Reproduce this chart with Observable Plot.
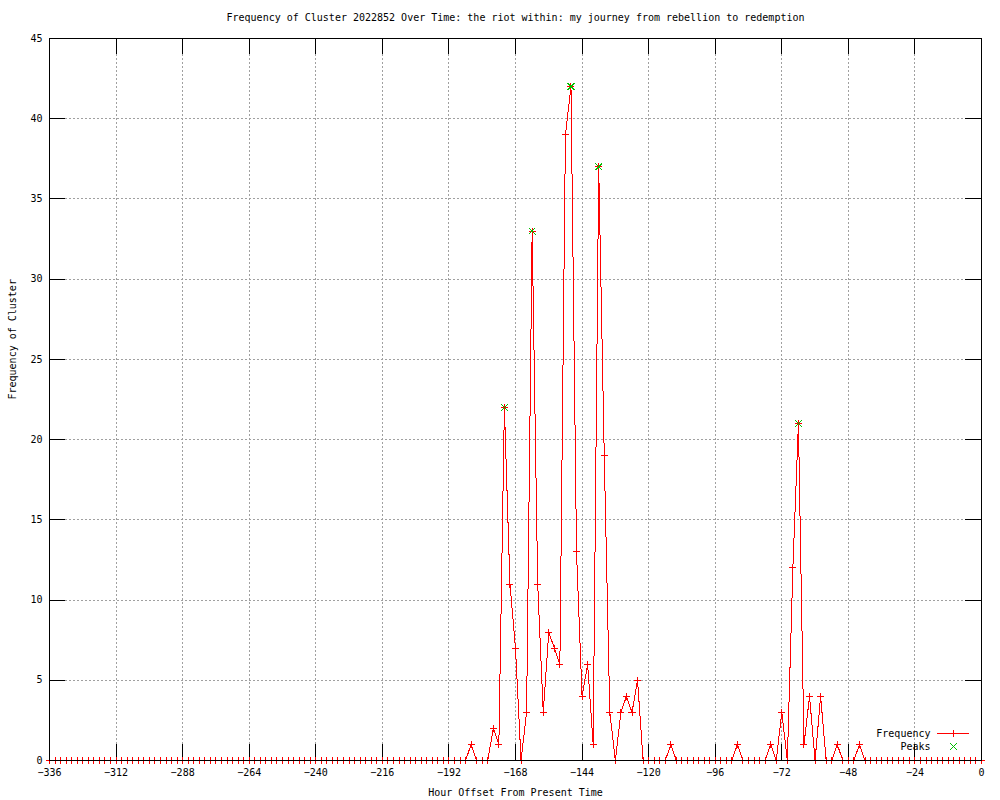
<!DOCTYPE html>
<html>
<head>
<meta charset="utf-8">
<script src="https://cdn.jsdelivr.net/npm/d3@7"></script>
<script src="https://cdn.jsdelivr.net/npm/@observablehq/plot@0.6"></script>
<style>
  body { margin: 0; background: #fff; }
  svg { display: block; }
  svg line, svg path, svg rect { shape-rendering: crispEdges; }
</style>
</head>
<body>
<div id="chart"></div>
<script>
// ---- data ----
const hours = d3.range(-336, 1, 2); // every 2 hours, -336 .. 0
const frequency = [
  0, 0, 0, 0, 0, 0, 0, 0, 0, 0, 0, 0,        // -336 .. -314
  0, 0, 0, 0, 0, 0, 0, 0, 0, 0, 0, 0,        // -312 .. -290
  0, 0, 0, 0, 0, 0, 0, 0, 0, 0, 0, 0,        // -288 .. -266
  0, 0, 0, 0, 0, 0, 0, 0, 0, 0, 0, 0,        // -264 .. -242
  0, 0, 0, 0, 0, 0, 0, 0, 0, 0, 0, 0,        // -240 .. -218
  0, 0, 0, 0, 0, 0, 0, 0, 0, 0, 0, 0,        // -216 .. -194
  0, 0, 0, 0, 1, 0, 0, 0, 2, 1, 22, 11,      // -192 .. -170
  7, 0, 3, 33, 11, 3, 8, 7, 6, 39, 42, 13,   // -168 .. -146
  4, 6, 1, 37, 19, 3, 0, 3, 4, 3, 5, 0,      // -144 .. -122
  0, 0, 0, 0, 1, 0, 0, 0, 0, 0, 0, 0,        // -120 .. -98
  0, 0, 0, 0, 1, 0, 0, 0, 0, 0, 1, 0,        // -96 .. -74
  3, 0, 12, 21, 1, 4, 0, 4, 0, 0, 1, 0,      // -72 .. -50
  0, 0, 1, 0, 0, 0, 0, 0, 0, 0, 0, 0,        // -48 .. -26
  0, 0, 0, 0, 0, 0, 0, 0, 0, 0, 0, 0,        // -24 .. -2
  0                                          // 0
];
const peakHours = [-172, -162, -148, -138, -66];
const peakValues = [22, 33, 42, 37, 21];
const xTicks = [-336, -312, -288, -264, -240, -216, -192, -168, -144, -120, -96, -72, -48, -24, 0];
const yTicks = [0, 5, 10, 15, 20, 25, 30, 35, 40, 45];

const titleText = "Frequency of Cluster 2022852 Over Time: the riot within: my journey from rebellion to redemption";
const xLabel = "Hour Offset From Present Time";
const yLabel = "Frequency of Cluster";
const legendLabels = ["Frequency", "Peaks"];

// ---- layout ----
const W = 1000, H = 800, mL = 49, mR = 19, mT = 38, mB = 40;
const fw = W - mL - mR, fh = H - mT - mB;
const RED = "#ff0000", GREEN = "#00c000", GRID = "#a0a0a0";
const PLUS_R = 2.4, TIMES_R = 3.2;

const data = hours.map((h, i) => ({hour: h, count: frequency[i]}));
const peaks = peakHours.map((h, i) => ({hour: h, count: peakValues[i]}));

const plot = Plot.plot({
  width: W, height: H,
  marginLeft: mL, marginRight: mR, marginTop: mT, marginBottom: mB,
  style: {fontFamily: "'DejaVu Sans Mono', monospace", fontSize: "10px", background: "#fff", color: "#000"},
  x: {domain: [-336, 0]},
  y: {domain: [0, 45]},
  marks: [
    Plot.gridX(xTicks.slice(1, -1), {stroke: GRID, strokeOpacity: 1, strokeDasharray: "2,2"}),
    Plot.gridY(yTicks.slice(1, -1), {stroke: GRID, strokeOpacity: 1, strokeDasharray: "2,2"}),
    Plot.ruleX(xTicks, {x: d => d, insetTop: fh - 16, stroke: "#000"}),
    Plot.ruleX(xTicks, {x: d => d, insetBottom: fh - 16, stroke: "#000"}),
    Plot.ruleY(yTicks, {y: d => d, insetRight: fw - 16, stroke: "#000"}),
    Plot.ruleY(yTicks, {y: d => d, insetLeft: fw - 16, stroke: "#000"}),
    Plot.axisX(xTicks, {tickSize: 0, tickPadding: 8, label: null, fontSize: 10}),
    Plot.axisY(yTicks, {tickSize: 0, tickPadding: 7, label: null, fontSize: 10}),
    Plot.lineY(data, {x: "hour", y: "count", stroke: RED, strokeWidth: 1}),
    Plot.dot(data, {x: "hour", y: "count", symbol: "plus", r: PLUS_R, stroke: RED, strokeWidth: 1}),
    Plot.dot(peaks, {x: "hour", y: "count", symbol: "times", r: TIMES_R, stroke: GREEN, strokeWidth: 1}),
    Plot.frame({stroke: "#000"}),
    Plot.text([titleText], {frameAnchor: "top", lineAnchor: "middle", dy: -20.6, fontSize: 10}),
    Plot.text([xLabel], {frameAnchor: "bottom", dy: 35.5, fontSize: 10}),
    Plot.text([yLabel], {frameAnchor: "left", lineAnchor: "middle", rotate: -90, dx: -37.2, fontSize: 10}),
    Plot.text([legendLabels[0]], {frameAnchor: "bottom-right", textAnchor: "end", dx: -51, dy: -24, fontSize: 10}),
    Plot.text([legendLabels[1]], {frameAnchor: "bottom-right", textAnchor: "end", dx: -51, dy: -11, fontSize: 10})
  ]
});
document.getElementById("chart").appendChild(plot);

// ---- legend key samples (drawn with the same symbol generators) ----
const svg = d3.select(plot);
const keyX = W - mR - 28, key1Y = H - mB - 27, key2Y = H - mB - 14;
const g = svg.append("g").attr("fill", "none").attr("stroke-width", 1);
g.append("line")
  .attr("x1", keyX - 16).attr("x2", keyX + 16)
  .attr("y1", key1Y + 0.5).attr("y2", key1Y + 0.5)
  .attr("stroke", RED);
g.append("path")
  .attr("transform", `translate(${keyX + 0.5},${key1Y + 0.5})`)
  .attr("d", d3.symbol(d3.symbolPlus, Math.PI * PLUS_R * PLUS_R)())
  .attr("stroke", RED);
g.append("path")
  .attr("transform", `translate(${keyX + 0.5},${key2Y + 0.5})`)
  .attr("d", d3.symbol(d3.symbolTimes, Math.PI * TIMES_R * TIMES_R)())
  .attr("stroke", GREEN);
</script>
</body>
</html>
